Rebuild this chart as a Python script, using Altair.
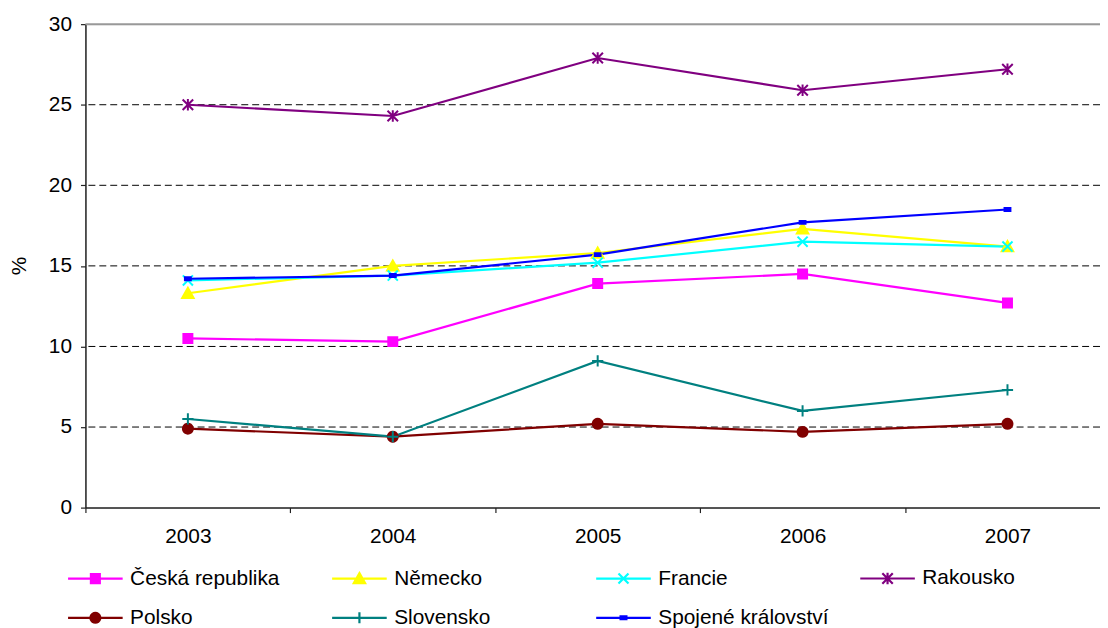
import math
import altair as alt
import pandas as pd

years = ["2003", "2004", "2005", "2006", "2007"]
series = ["Česká republika", "Německo", "Francie", "Rakousko",
          "Polsko", "Slovensko", "Spojené království"]
cz = [10.5, 10.3, 13.9, 14.5, 12.7]
de = [13.3, 15.0, 15.8, 17.3, 16.2]
fr = [14.1, 14.4, 15.2, 16.5, 16.2]
at = [25.0, 24.3, 27.9, 25.9, 27.2]
pl = [4.9, 4.4, 5.2, 4.7, 5.2]
sk = [5.5, 4.4, 9.1, 6.0, 7.3]
uk = [14.2, 14.4, 15.7, 17.7, 18.5]
colors = ["#FF00FF", "#FFFF00", "#00FFFF", "#800080", "#800000", "#008080", "#0000FF"]
grid_vals = [5, 10, 15, 20, 25]
top_vals = [30]
y_ticks = [0, 5, 10, 15, 20, 25, 30]

rows = []
for s, vals in zip(series, [cz, de, fr, at, pl, sk, uk]):
    for yr, v in zip(years, vals):
        rows.append({"year": yr, "series": s, "value": v, "lg": s})
df = pd.DataFrame(rows)

FONT = "Liberation Sans"


def f(v):
    return f"{v:.3f}"


def square(k):
    return f"M{f(-k)},{f(-k)}H{f(k)}V{f(k)}H{f(-k)}Z"


def triangle(k):
    return f"M0,{f(-k)}L{f(1.05*k)},{f(0.85*k)}H{f(-1.05*k)}Z"


def xmark(k):
    return f"M{f(-k)},{f(-k)}L{f(k)},{f(k)}M{f(-k)},{f(k)}L{f(k)},{f(-k)}"


def star(k):
    return xmark(k) + f"M0,{f(-1.1*k)}L0,{f(1.1*k)}"


def circle(k):
    pts = []
    for i in range(20):
        a = 2 * math.pi * i / 20
        pts.append(f"{f(k*math.cos(a))},{f(k*math.sin(a))}")
    return "M" + "L".join(pts) + "Z"


def plus(k):
    return f"M{f(-k)},0H{f(k)}M0,{f(-k)}V{f(k)}"


def dash(k):
    return f"M{f(-k)},{f(-0.5*k)}H{f(k)}V{f(0.5*k)}H{f(-k)}Z"


makers = [square, triangle, xmark, star, circle, plus, dash]
marker_scale = [0.64, 0.78, 0.72, 0.75, 0.71, 0.8, 0.42]
marker_paths = [m(k) for m, k in zip(makers, marker_scale)]
legend_paths = ["M-1,0H1" + m(k * 7.0 / 27.5) for m, k in zip(makers, marker_scale)]

xscale = alt.Scale(type="band", paddingInner=0, paddingOuter=0, range=[0, 1032])
yscale = alt.Scale(domain=[0, 30], nice=False, zero=True)

base = alt.Chart(df)

x_enc = alt.X("year:N", scale=xscale, sort=years,
              axis=alt.Axis(title=None, labelAngle=0, tickBand="extent", tickSize=5,
                            labelPadding=13, labelFontSize=21, labelFont=FONT,
                            labelColor="black", domainColor="#222", tickColor="#222",
                            domainWidth=1.5, tickWidth=1.2, grid=False))
y_enc = alt.Y("value:Q", scale=yscale,
              axis=alt.Axis(values=y_ticks, title="%", titleFontSize=21, titleFont=FONT,
                            titleFontWeight="normal", titleColor="black",
                            titleX=-66, titleY=243, titleAngle=270, titleAlign="center",
                            titleBaseline="middle",
                            tickSize=5, labelPadding=9, labelFontSize=21, labelFont=FONT,
                            labelColor="black", domainColor="#222", tickColor="#222",
                            domainWidth=1.5, tickWidth=1.2, grid=False))

grid = alt.Chart(pd.DataFrame({"g": grid_vals})).mark_rule(
    color="black", strokeWidth=1, strokeDash=[7, 4]
).encode(y=alt.Y("g:Q", scale=yscale))

top = alt.Chart(pd.DataFrame({"t": top_vals})).mark_rule(
    color="#999999", strokeWidth=2
).encode(y=alt.Y("t:Q", scale=yscale))

lines = base.mark_line(strokeWidth=2.2).encode(
    x=x_enc, y=y_enc,
    color=alt.Color("series:N", scale=alt.Scale(domain=series, range=colors), legend=None),
    detail="series:N",
)

points = base.mark_point(filled=True, size=200, strokeWidth=2, opacity=1).encode(
    x=alt.X("year:N", scale=xscale, sort=years),
    y=alt.Y("value:Q", scale=yscale),
    fill=alt.Fill("series:N", scale=alt.Scale(domain=series, range=colors), legend=None),
    stroke=alt.Stroke("series:N", scale=alt.Scale(domain=series, range=colors), legend=None),
    shape=alt.Shape("series:N", scale=alt.Scale(domain=series, range=marker_paths), legend=None),
)

leg = alt.Legend(title=None, orient="none", legendX=-19, legendY=529, columns=4,
                 direction="horizontal", symbolSize=3025, symbolStrokeWidth=2.2,
                 labelFont=FONT, labelFontSize=21, labelColor="black", labelOffset=6,
                 labelLimit=400, columnPadding=27, rowPadding=-16, gridAlign="all",
                 padding=0)

legend_layer = base.mark_point(filled=True, size=10, strokeWidth=2.2, opacity=1, clip=True).encode(
    x=alt.value(-2000), y=alt.value(-2000),
    fill=alt.Fill("lg:N", scale=alt.Scale(domain=series, range=colors), legend=leg),
    stroke=alt.Stroke("lg:N", scale=alt.Scale(domain=series, range=colors), legend=leg),
    shape=alt.Shape("lg:N", scale=alt.Scale(domain=series, range=legend_paths), legend=leg),
)

chart = alt.layer(grid, top, lines, points, legend_layer).resolve_scale(
    shape="independent", fill="independent", stroke="independent"
).properties(
    width=1022, height=487,
    padding={"left": 78, "top": 14, "right": 0, "bottom": 119},
    autosize=alt.AutoSizeParams(type="none"),
    background="white",
).configure_view(stroke=None).configure(font=FONT)

chart.save("out.html", embed_options={"renderer": "svg", "actions": False})
